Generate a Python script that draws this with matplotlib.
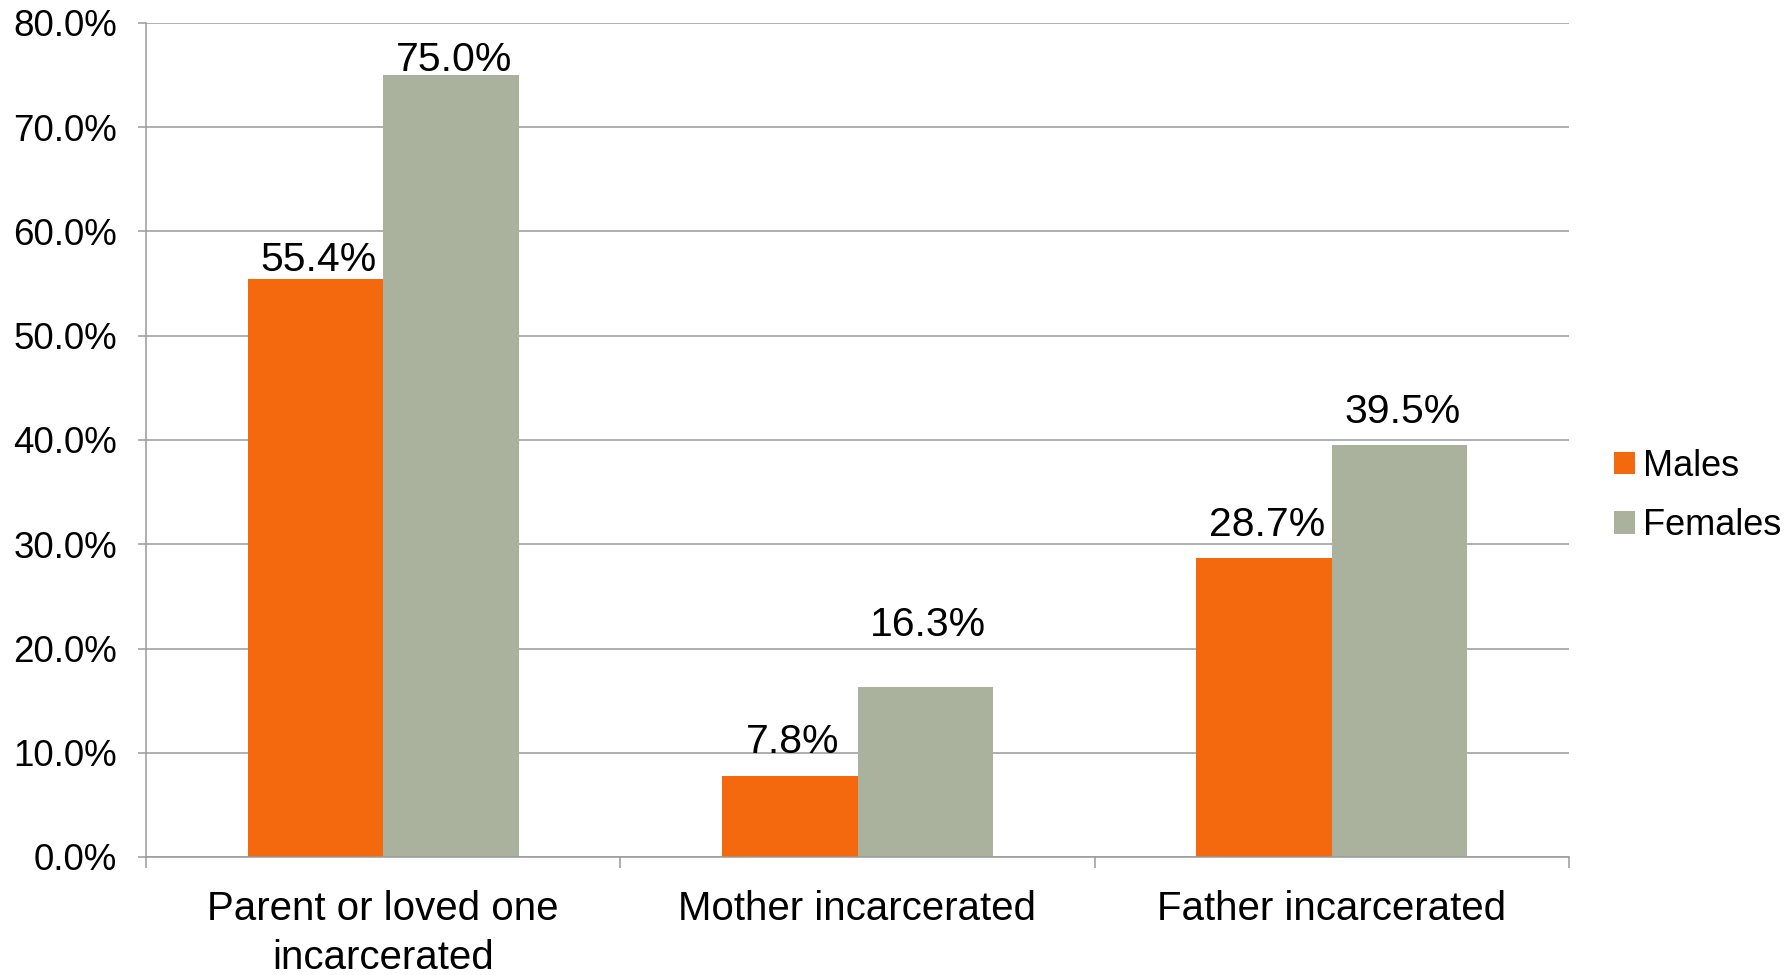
import matplotlib
matplotlib.use("Agg")
import matplotlib.pyplot as plt
import numpy as np
from matplotlib.patches import Patch

categories = ["Parent or loved one\nincarcerated", "Mother incarcerated", "Father incarcerated"]
series_names = ["Males", "Females"]
males = [55.4, 7.8, 28.7]
females = [75.0, 16.3, 39.5]
y_ticks = [0, 10, 20, 30, 40, 50, 60, 70, 80]

# label baseline lift above each bar top, in points
label_lift = {
    "Males": [5.8, 16.1, 15.6],
    "Females": [2.9, 36.5, 16.1],
}

colors = ["#F4690E", "#AAB29E"]
grid_color = "#9A9A9A"
sans = ["Liberation Sans", "DejaVu Sans"]

fig = plt.figure(figsize=(17.91, 9.75), dpi=100)
ax = fig.add_axes([146 / 1791, 1 - 857 / 975, (1569 - 146) / 1791, (857 - 23) / 975])

x = np.arange(len(categories))
width = 0.2857
for i, (vals, name) in enumerate(zip([males, females], series_names)):
    offs = (i - 0.5) * width
    bars = ax.bar(x + offs, vals, width, color=colors[i], label=name, zorder=3)
    for b, v, lift in zip(bars, vals, label_lift[name]):
        ax.annotate(f"{v:.1f}%", (b.get_x() + b.get_width() / 2, v),
                    xytext=(2, lift), textcoords="offset points",
                    ha="center", va="baseline", fontsize=29.5, family=sans, zorder=4)

ax.set_xlim(-0.5, len(categories) - 0.5)
ax.set_ylim(0, 80)
ax.set_yticks(y_ticks)
ax.set_yticklabels([f"{t:.1f}%" for t in y_ticks], family=sans, fontsize=26.5)
ax.yaxis.grid(True, color=grid_color, linewidth=1.1, zorder=0)
ax.set_axisbelow(True)

ax.set_xticks(x)
ax.set_xticklabels(categories, family=sans, fontsize=29, linespacing=1.36)
ax.set_xticks(np.arange(-0.5, len(categories), 1.0), minor=True)
ax.tick_params(axis="x", which="major", length=0, pad=24)
ax.tick_params(axis="x", which="minor", length=8, width=1.1, color=grid_color, direction="out")
ax.tick_params(axis="y", length=6, width=1.1, color=grid_color, pad=15)

for s in ["top", "right"]:
    ax.spines[s].set_visible(False)
for s in ["left", "bottom"]:
    ax.spines[s].set_color(grid_color)
    ax.spines[s].set_linewidth(1.1)
ax.spines["bottom"].set_zorder(5)

handles = [Patch(facecolor=c, edgecolor="none") for c in colors]
leg = fig.legend(handles, series_names, loc="center left",
                 bbox_to_anchor=(1614 / 1791, 1 - 496 / 975),
                 frameon=False, prop={"family": sans, "size": 26},
                 handlelength=0.57, handleheight=0.57, handletextpad=0.22,
                 labelspacing=0.68, borderpad=0, borderaxespad=0)

fig.savefig("out.png", dpi=100)
